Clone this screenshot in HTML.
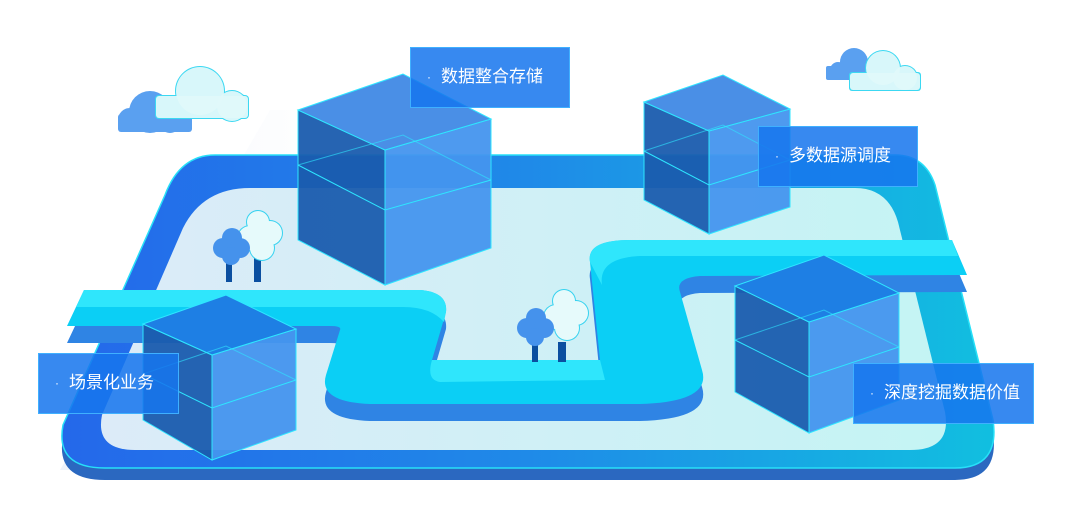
<!DOCTYPE html>
<html><head><meta charset="utf-8"><style>
html,body{margin:0;padding:0;background:#fff;width:1071px;height:524px;overflow:hidden}
.lb{position:absolute;background:rgba(22,118,238,0.86);border:1px solid #3fb0ff;color:#fff;font-family:"Liberation Sans","Noto Sans CJK SC",sans-serif;font-size:17px;line-height:58px;box-sizing:border-box;padding-left:16px;white-space:nowrap}
.lb span{display:inline-block;margin-right:10px;font-size:12px;vertical-align:top}
</style></head><body>
<svg width="1071" height="524" viewBox="0 0 1071 524" style="position:absolute;left:0;top:0">
<defs>
<linearGradient id="road" x1="0" x2="1"><stop offset="0" stop-color="#2468ea"/><stop offset="0.5" stop-color="#1f8ae8"/><stop offset="1" stop-color="#11bfe0"/></linearGradient>
<linearGradient id="inner" x1="0" x2="1"><stop offset="0" stop-color="#dcebf8"/><stop offset="1" stop-color="#c4f4f4"/></linearGradient>
<linearGradient id="cl" x1="0" x2="1"><stop offset="0" stop-color="#d2f4f6"/><stop offset="1" stop-color="#f2fdfd"/></linearGradient>
<linearGradient id="bgl" x1="0" x2="1"><stop offset="0" stop-color="#eef3fb"/><stop offset="1" stop-color="#ffffff" stop-opacity="0"/></linearGradient>
</defs>
<polygon points="270,110 420,110 300,470 60,470" fill="url(#bgl)"/>
<!-- board -->
<path d="M215,167 L895,167 Q925,167 935,197 L993,432 Q1000,480 955,480 L105,480 Q55,480 63,437 L165,207 Q180,167 215,167 Z" fill="#2b68c0"/>
<path d="M215,155 L895,155 Q925,155 935,185 L993,420 Q1000,468 955,468 L105,468 Q55,468 63,425 L165,195 Q180,155 215,155 Z" fill="url(#road)" stroke="#27e0f8" stroke-width="1.5"/>
<path d="M250,188 L855,188 Q888,188 898,222 L945,412 Q952,450 910,450 L135,450 Q95,450 102,415 L183,228 Q203,188 250,188 Z" fill="url(#inner)"/>
<!-- river -->
<g transform="translate(0,17)"><path d="M84,290 L420,290 Q448,292 446,312 L432,360 L600,360 L590,262 Q586,240 630,240 L952,240 L967,275 L700,276 Q675,278 680,292 L702,370 Q712,402 640,404 L370,404 Q318,402 326,375 L340,330 Q342,326 330,326 L67,326 Z" fill="#2f84e4"/></g>
<path d="M84,290 L420,290 Q448,292 446,312 L432,360 L600,360 L590,262 Q586,240 630,240 L952,240 L967,275 L700,276 Q675,278 680,292 L702,370 Q712,402 640,404 L370,404 Q318,402 326,375 L340,330 Q342,326 330,326 L67,326 Z" fill="#0bcff5"/>
<path d="M84,290 L420,290 Q448,292 446,312 L444,322 Q430,306 400,307 L76,307 Z" fill="#2fe6fc"/>
<path d="M590,262 Q586,240 630,240 L952,240 L958,256 L640,256 Q598,258 602,285 Z" fill="#2fe6fc"/>
<path d="M432,360 L600,360 L605,380 L440,382 Q426,380 432,360 Z" fill="#2fe6fc"/>
<!-- trees -->
<g>
<rect x="226" y="262" width="6" height="20" fill="#0b4fa0"/><rect x="254" y="258" width="7" height="24" fill="#0b4fa0"/>
<g fill="#35d2f0"><circle cx="258" cy="222" r="12"/><circle cx="270" cy="233" r="13"/><circle cx="250" cy="238" r="13"/><circle cx="262" cy="248" r="13"/></g>
<g fill="#e6fafb"><circle cx="258" cy="222" r="11"/><circle cx="270" cy="233" r="12"/><circle cx="250" cy="238" r="12"/><circle cx="262" cy="248" r="12"/></g>
<g fill="#4592ec"><circle cx="232" cy="238" r="10"/><circle cx="223" cy="248" r="10"/><circle cx="240" cy="248" r="10"/><circle cx="231" cy="256" r="9"/></g>
</g>
<g>
<rect x="532" y="345" width="6" height="17" fill="#0b4fa0"/><rect x="558" y="342" width="8" height="20" fill="#0b4fa0"/>
<g fill="#35d2f0"><circle cx="564" cy="301" r="12"/><circle cx="576" cy="313" r="13"/><circle cx="556" cy="317" r="13"/><circle cx="567" cy="328" r="13"/></g>
<g fill="#e6fafb"><circle cx="564" cy="301" r="11"/><circle cx="576" cy="313" r="12"/><circle cx="556" cy="317" r="12"/><circle cx="567" cy="328" r="12"/></g>
<g fill="#4592ec"><circle cx="536" cy="318" r="10"/><circle cx="527" cy="328" r="10"/><circle cx="544" cy="328" r="10"/><circle cx="535" cy="337" r="9"/></g>
</g>
<!-- cubes -->
<g stroke="#2ee6ff" stroke-width="1">
<polygon points="298,110 385,150 385,285 298,240" fill="#1a5cae" fill-opacity="0.95"/>
<polygon points="385,150 491,119 491,248 385,285" fill="#4595ee" fill-opacity="0.95"/>
<polygon points="298,110 403,74 491,119 385,150" fill="#4a8fe6"/>
<polyline points="298,165 385,210 491,180" fill="none"/><polyline points="298,165 403,135 491,180" fill="none" stroke-opacity="0.6"/>
<polygon points="644,102 709,131 709,234 644,200" fill="#1a5cae" fill-opacity="0.95"/>
<polygon points="709,131 790,109 790,207 709,234" fill="#4595ee" fill-opacity="0.95"/>
<polygon points="644,102 723,75 790,109 709,131" fill="#4a8fe6"/>
<polyline points="644,151 709,185 790,160" fill="none"/><polyline points="644,151 723,125 790,160" fill="none" stroke-opacity="0.6"/>
<polygon points="143,324 212,355 212,460 143,420" fill="#1a5cae" fill-opacity="0.95"/>
<polygon points="212,355 296,329 296,430 212,460" fill="#4595ee" fill-opacity="0.95"/>
<polygon points="143,324 226,295 296,329 212,355" fill="#1e7fe4"/>
<polyline points="143,374 212,408 296,380" fill="none"/><polyline points="143,374 226,346 296,380" fill="none" stroke-opacity="0.6"/>
<polygon points="735,286 809,322 809,433 735,392" fill="#1a5cae" fill-opacity="0.95"/>
<polygon points="809,322 899,293 899,400 809,433" fill="#4595ee" fill-opacity="0.95"/>
<polygon points="735,286 824,255 899,293 809,322" fill="#1e7fe4"/>
<polyline points="735,340 809,377 899,347" fill="none"/><polyline points="735,340 824,310 899,347" fill="none" stroke-opacity="0.6"/>
</g>
<!-- clouds -->
<g fill="#5aa0f0"><circle cx="150" cy="112" r="21"/><circle cx="130" cy="120" r="12"/><circle cx="170" cy="122" r="11"/><rect x="118" y="114" width="74" height="18" rx="3"/></g>
<g fill="#3cd8f2"><circle cx="200" cy="91" r="25"/><circle cx="232" cy="106" r="16"/><rect x="155" y="95" width="94" height="24" rx="4"/></g>
<g fill="#e0f9fa" fill-opacity="0.95"><circle cx="200" cy="91" r="24"/><circle cx="232" cy="106" r="15"/><rect x="156" y="96" width="92" height="22" rx="3"/></g>
<g fill="#5aa0f0"><circle cx="854" cy="62" r="14"/><circle cx="838" cy="70" r="8"/><rect x="826" y="66" width="44" height="14" rx="2"/></g>
<g fill="#3cd8f2"><circle cx="883" cy="68" r="18"/><circle cx="905" cy="78" r="13"/><rect x="849" y="72" width="72" height="19" rx="3"/></g>
<g fill="#e0f9fa" fill-opacity="0.95"><circle cx="883" cy="68" r="17"/><circle cx="905" cy="78" r="12"/><rect x="850" y="73" width="70" height="17" rx="3"/></g>
</svg>
<div class="lb" style="left:410px;top:47px;width:160px;height:61px"><span>·</span>数据整合存储</div>
<div class="lb" style="left:758px;top:126px;width:160px;height:61px"><span>·</span>多数据源调度</div>
<div class="lb" style="left:38px;top:353px;width:141px;height:61px"><span>·</span>场景化业务</div>
<div class="lb" style="left:853px;top:363px;width:181px;height:61px"><span>·</span>深度挖掘数据价值</div>
</body></html>
